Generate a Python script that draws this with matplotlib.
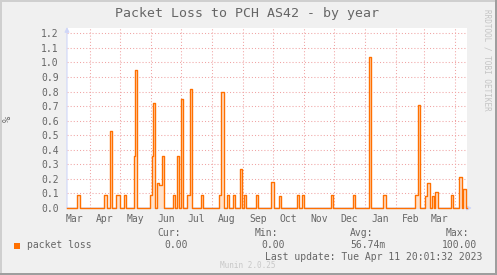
import numpy as np
import matplotlib
matplotlib.use("Agg")
import matplotlib.pyplot as plt
import matplotlib.dates as mdates
from matplotlib.patches import Rectangle

# packet loss (%) spikes: start day, length in days, value
seg_start = ['2022-03-19', '2022-04-15', '2022-04-21', '2022-04-27', '2022-05-05',
             '2022-05-15', '2022-05-16', '2022-05-31', '2022-06-02', '2022-06-03',
             '2022-06-07', '2022-06-09', '2022-06-12', '2022-06-23', '2022-06-27',
             '2022-07-01', '2022-07-07', '2022-07-10', '2022-07-21', '2022-08-08',
             '2022-08-10', '2022-08-16', '2022-08-22', '2022-08-29', '2022-09-02',
             '2022-09-14', '2022-09-29', '2022-10-07', '2022-10-25', '2022-10-30',
             '2022-11-28', '2022-12-20', '2023-01-05', '2023-01-19', '2023-02-20',
             '2023-02-23', '2023-03-02', '2023-03-04', '2023-03-09', '2023-03-12',
             '2023-03-28', '2023-04-05', '2023-04-09']
seg_days = [3, 3, 2, 4, 2, 1, 2, 2, 1, 2, 2, 3, 2, 2, 2, 2, 3, 2, 2, 2, 3, 2, 2, 2, 2,
            2, 3, 2, 2, 2, 2, 2, 2, 3, 3, 2, 2, 3, 2, 3, 2, 3, 3]
seg_value = [0.09, 0.09, 0.53, 0.09, 0.09, 0.36, 0.95, 0.09, 0.36, 0.72, 0.17, 0.16,
             0.36, 0.09, 0.36, 0.75, 0.09, 0.82, 0.09, 0.09, 0.80, 0.09, 0.09, 0.27,
             0.09, 0.09, 0.18, 0.08, 0.09, 0.09, 0.09, 0.09, 1.04, 0.09, 0.09, 0.71,
             0.08, 0.17, 0.08, 0.11, 0.09, 0.21, 0.13]

first_day = '2022-03-09'
last_day = '2023-04-12'

y_ticks = [0.0, 0.1, 0.2, 0.3, 0.4, 0.5, 0.6, 0.7, 0.8, 0.9, 1.0, 1.1, 1.2]

stat_names = ['Cur:', 'Min:', 'Avg:', 'Max:']
stat_values = ['0.00', '0.00', '56.74m', '100.00']
last_update = 'Tue Apr 11 20:01:32 2023'

# build daily series
days = np.arange(np.datetime64(first_day), np.datetime64(last_day) + 2)
loss = np.zeros(len(days))
for s, n, v in zip(seg_start, seg_days, seg_value):
    i = int((np.datetime64(s) - days[0]).astype(int))
    loss[i:i + n] = v
x = mdates.date2num(days.astype('datetime64[s]').astype(object))

W, H = 497, 275
BACK = '#F0F0F0'
FONT = '#666666'
AXIS = '#CFD6F8'
LINE = '#FF7000'
GRID = '#F0A4A4'
mono = 'DejaVu Sans Mono'

fig = plt.figure(figsize=(W / 100, H / 100), dpi=100, facecolor=BACK)

def px(xp, yp):
    return xp / W, 1 - yp / H

# frame shading
fig.add_artist(Rectangle((0, 0), 2 / W, 1, transform=fig.transFigure, fc='#CFCFCF', lw=0))
fig.add_artist(Rectangle((0, 1 - 2 / H), 1, 2 / H, transform=fig.transFigure, fc='#CFCFCF', lw=0))
fig.add_artist(Rectangle((0, 0), 1, 2 / H, transform=fig.transFigure, fc='#9E9E9E', lw=0))
fig.add_artist(Rectangle((1 - 2 / W, 0), 2 / W, 1, transform=fig.transFigure, fc='#9E9E9E', lw=0))

left, right, bottom, top = 67, 467, 208, 28
ax = fig.add_axes([left / W, 1 - bottom / H, (right - left) / W, (bottom - top) / H])
ax.set_facecolor('white')
for s in ax.spines.values():
    s.set_visible(False)

ax.set_xlim(x[0], mdates.date2num(np.datetime64('2023-04-13').astype(object)))
ax.set_ylim(0, (bottom - top) / 145.6)

# grid
ax.xaxis.set_major_locator(mdates.MonthLocator())
ax.xaxis.set_minor_locator(mdates.MonthLocator(bymonthday=16))
ax.xaxis.set_major_formatter(plt.NullFormatter())
ax.xaxis.set_minor_formatter(mdates.DateFormatter('%b'))
ax.set_yticks(y_ticks)
ax.set_yticklabels(['%.1f' % v for v in y_ticks])
ax.tick_params(axis='both', which='both', length=0, colors=FONT, labelsize=7)
ax.tick_params(axis='x', which='minor', pad=4)
ax.tick_params(axis='y', pad=6)
for lab in ax.get_xticklabels(minor=True) + ax.get_yticklabels():
    lab.set_family(mono)
ax.grid(True, which='major', color=GRID, lw=0.75, linestyle=(0, (1, 2)))
ax.set_axisbelow(True)

# axes with arrows
ax.annotate('', xy=(1.012, 0), xytext=(0, 0), xycoords='axes fraction',
            arrowprops=dict(arrowstyle='-|>', color=AXIS, lw=0.8, mutation_scale=7,
                            shrinkA=0, shrinkB=0), annotation_clip=False)
ax.annotate('', xy=(0, 1.005), xytext=(0, 0), xycoords='axes fraction',
            arrowprops=dict(arrowstyle='-|>', color=AXIS, lw=0.8, mutation_scale=7,
                            shrinkA=0, shrinkB=0), annotation_clip=False)

ax.fill_between(x, loss, step='post', color='#FFE2CC', lw=0, zorder=3)
ax.step(x, loss, where='post', color=LINE, lw=1.0, zorder=4, clip_on=False)

# texts
fig.text(*px(247, 14), 'Packet Loss to PCH AS42 - by year', ha='center', va='center',
         family=mono, fontsize=9.5, color=FONT)
fig.text(*px(8, 119), '%', rotation=90, ha='center', va='center', family=mono,
         fontsize=7.5, color=FONT)
fig.text(*px(487, 60), 'RRDTOOL / TOBI OETIKER', rotation=270, ha='center', va='center',
         family=mono, fontsize=5.5, color='#C4C4C4')

fig.add_artist(Rectangle(px(14, 249), 6 / W, 6 / H, transform=fig.transFigure,
                         fc=LINE, lw=0))
fig.text(*px(27, 245), 'packet loss', ha='left', va='center', family=mono,
         fontsize=7, color=FONT)
name_right = [181, 278, 373, 469]
val_right = [188, 285, 386, 477]
for nm, vr, nr, vl in zip(stat_names, val_right, name_right, stat_values):
    fig.text(*px(nr, 233), nm, ha='right', va='center', family=mono, fontsize=7, color=FONT)
    fig.text(*px(vr, 245), vl, ha='right', va='center', family=mono, fontsize=7, color=FONT)
fig.text(*px(482, 257), 'Last update: ' + last_update, ha='right', va='center',
         family=mono, fontsize=7, color=FONT)
fig.text(*px(248, 265), 'Munin 2.0.25', ha='center', va='center', family=mono,
         fontsize=5.5, color='#C8C8C8')

fig.savefig('out.png', dpi=100, facecolor=BACK)
